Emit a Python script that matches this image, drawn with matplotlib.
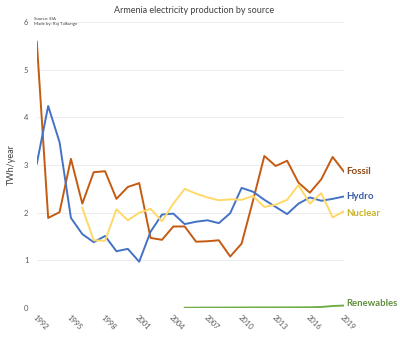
import matplotlib
matplotlib.use('Agg')
import matplotlib.pyplot as plt

plt.rcParams['font.family'] = ['Lato', 'DejaVu Sans']

years = list(range(1992, 2020))

fossil = [5.59, 1.89, 2.01, 3.13, 2.19, 2.85, 2.87, 2.29, 2.54, 2.62,
          1.47, 1.43, 1.71, 1.71, 1.39, 1.40, 1.42, 1.08, 1.35, 2.25,
          3.19, 2.98, 3.09, 2.63, 2.42, 2.70, 3.17, 2.86]
hydro = [3.03, 4.24, 3.48, 1.89, 1.55, 1.38, 1.51, 1.19, 1.24, 0.97,
         1.60, 1.96, 1.98, 1.76, 1.81, 1.84, 1.78, 1.99, 2.52, 2.44,
         2.27, 2.12, 1.97, 2.19, 2.32, 2.25, 2.29, 2.34]
nuclear_years = list(range(1996, 2020))
nuclear = [2.10, 1.42, 1.41, 2.07, 1.84, 2.00, 2.08, 1.82, 2.19, 2.50,
           2.40, 2.32, 2.26, 2.28, 2.27, 2.35, 2.12, 2.17, 2.27, 2.58,
           2.19, 2.41, 1.90, 2.03]
renew_years = list(range(2005, 2020))
renewables = [0.003, 0.005, 0.006, 0.007, 0.008, 0.009, 0.010, 0.010,
              0.010, 0.011, 0.012, 0.013, 0.020, 0.040, 0.050]

xticks = list(range(1992, 2020, 3))

fig = plt.figure(figsize=(4.0, 3.41), dpi=100)
ax = fig.add_axes([0.092, 0.097, 0.768, 0.838])

ax.plot(years, fossil, color='#c55a11', lw=1.4)
ax.plot(years, hydro, color='#4472c4', lw=1.4)
ax.plot(nuclear_years, nuclear, color='#ffd966', lw=1.4)
ax.plot(renew_years, renewables, color='#70ad47', lw=1.4)

# series labels at the line ends
ax.text(2019.2, fossil[-1], 'Fossil', color='#8e4a17', fontsize=7,
        fontweight='bold', va='center')
ax.text(2019.2, hydro[-1], 'Hydro', color='#3d5fa8', fontsize=7,
        fontweight='bold', va='center')
ax.text(2019.2, nuclear[-1] - 0.04, 'Nuclear', color='#c9b12a', fontsize=7,
        fontweight='bold', va='center')
ax.text(2019.2, renewables[-1] + 0.04, 'Renewables', color='#5e8f3c',
        fontsize=6.8, fontweight='bold', va='center')

ax.set_xlim(1992, 2019)
ax.set_ylim(0, 6)
ax.set_yticks(range(0, 7))
ax.set_xticks(xticks)
ax.set_xticklabels([str(y) for y in xticks], rotation=-45, ha='left',
                   va='top', rotation_mode='anchor')
ax.tick_params(length=0, labelsize=5.5, colors='#595959', pad=6)
ax.tick_params(axis='x', pad=4)
ax.grid(axis='y', color='#ececec', lw=0.7)
ax.set_axisbelow(True)
for s in ax.spines.values():
    s.set_visible(False)

ax.set_ylabel('TWh/year', fontsize=6.5, color='#404040', labelpad=6)

fig.text(0.484, 0.968, 'Armenia electricity production by source',
         ha='center', va='center', fontsize=6.5, color='#404040')
fig.text(0.085, 0.95, 'Source: EIA\nMade by: Raj Talkunge', fontsize=3.2,
         color='#404040', va='top', linespacing=1.3)

fig.savefig('out.png', dpi=100, facecolor='white')
